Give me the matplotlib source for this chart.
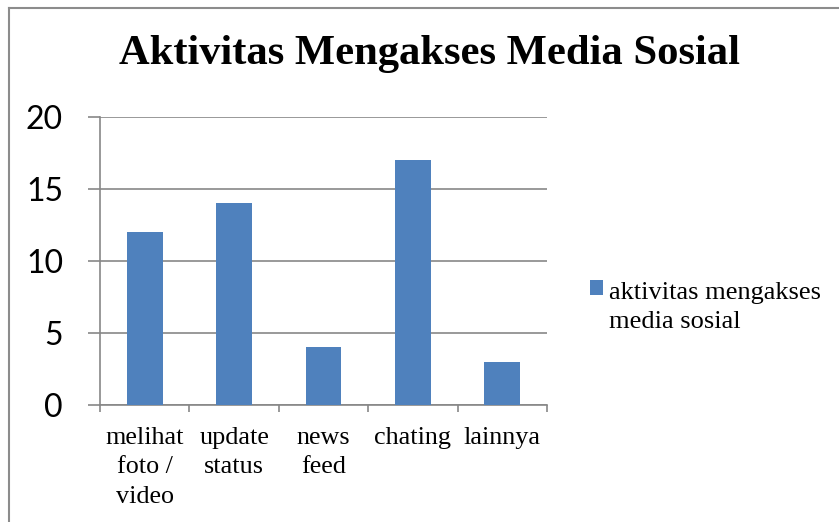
import numpy as np
import matplotlib
matplotlib.use("Agg")
import matplotlib.pyplot as plt
from matplotlib.patches import Rectangle
from matplotlib.lines import Line2D
from matplotlib.legend_handler import HandlerPatch

categories = ["melihat\nfoto /\nvideo", "update\nstatus", "news\nfeed", "chating", "lainnya"]
values = [12, 14, 4, 17, 3]
series_name = "aktivitas mengakses\nmedia sosial"
yticks = [0, 5, 10, 15, 20]

bar_color = "#4F81BD"
grid_color = "#878787"
serif = ["Liberation Serif", "DejaVu Serif"]

W, H = 839, 522
fig = plt.figure(figsize=(W / 100, H / 100), dpi=100)

# axes area in pixels: x 100..547, y 117..405
ax = fig.add_axes([100 / W, 1 - 405 / H, 447 / W, 288 / H])
x = np.arange(len(categories))
bars = ax.bar(x, values, width=0.4, color=bar_color, zorder=3)

ax.set_xlim(-0.5, len(categories) - 0.5)
ax.set_ylim(0, 20)
ax.set_yticks(yticks)
ax.set_yticklabels([str(v) for v in yticks], family="Lato", fontsize=23)
ax.set_xticks(x)
ax.set_xticklabels(categories, family=serif, fontsize=18.8, linespacing=1.42)
ax.tick_params(axis="x", length=0, pad=16)
ax.tick_params(axis="y", length=8.6, color=grid_color, width=1.2, pad=18)

# x-axis category boundary ticks
ax.set_xticks(np.arange(len(categories) + 1) - 0.5, minor=True)
ax.tick_params(axis="x", which="minor", length=5, color=grid_color, width=1.2)

for s in ["top", "right"]:
    ax.spines[s].set_visible(False)
for s in ["left", "bottom"]:
    ax.spines[s].set_color(grid_color)
    ax.spines[s].set_linewidth(1.2)

ax.yaxis.grid(True, color=grid_color, linewidth=1.2, zorder=0)
ax.set_axisbelow(True)


def shifted_patch(legend, orig_handle, xdescent, ydescent, width, height, fontsize):
    return Rectangle((-xdescent, -ydescent + 0.72 * fontsize), width, height)


leg = fig.legend([bars.patches[0]], [series_name],
                 loc="upper left", bbox_to_anchor=(577 / W, 1 - 269 / H),
                 frameon=False, prop={"family": serif, "size": 19},
                 handlelength=0.5, handleheight=0.5, handletextpad=0.2,
                 borderpad=0, labelspacing=0,
                 handler_map={Rectangle: HandlerPatch(patch_func=shifted_patch)})
for t in leg.get_texts():
    t.set_linespacing(1.38)

fig.text(429 / W, 1 - 54 / H, "Aktivitas Mengakses Media Sosial",
         family=serif, fontweight="bold", fontsize=30.7, ha="center", va="center")

# chart frame (left and top edges visible)
fig.add_artist(Line2D([8.5 / W, 8.5 / W], [0, 1 - 8 / H], color="#8c8c8c", linewidth=1.5))
fig.add_artist(Line2D([8.5 / W, 1], [1 - 8 / H, 1 - 8 / H], color="#8c8c8c", linewidth=1.5))

fig.savefig("out.png", dpi=100)
